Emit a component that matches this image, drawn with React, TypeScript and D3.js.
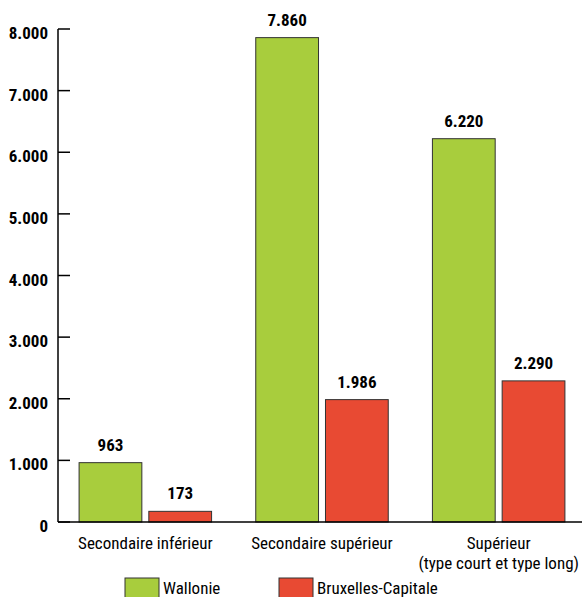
import React from "react";
import * as d3 from "d3";

const categories = ["Secondaire inférieur", "Secondaire supérieur", "Supérieur|(type court et type long)"];
const seriesNames = ["Wallonie", "Bruxelles-Capitale"];
const wallonie = [963, 7860, 6220];
const bruxelles = [173, 1986, 2290];
const yTicks = [0, 1000, 2000, 3000, 4000, 5000, 6000, 7000, 8000];
const colors = ["#a8cd3d", "#e84a33"];

const fmt = (v: number) => (v >= 1000 ? d3.format(",")(v).replace(/,/g, ".") : String(v));
const FONT = "'Liberation Sans Narrow', 'Roboto Condensed', 'Arial Narrow', 'Liberation Sans', sans-serif";

export default function App() {
  const W = 582, H = 597;
  const y = d3.scaleLinear().domain([0, 8000]).range([522, 29]);
  const x0 = d3.scaleBand().domain(categories).range([57, 587]).paddingInner(0.25).paddingOuter(0.125);
  const x1 = d3.scaleBand().domain(seriesNames).range([0, x0.bandwidth()]).paddingInner(0.1);
  const series = [wallonie, bruxelles];
  return (
    <svg width={W} height={H} style={{ position: "absolute", left: 0, top: 0, fontFamily: FONT }}>
      <rect width={W} height={H} fill="#fff" />
      {yTicks.map((t) => (
        <g key={t}>
          <line x1={58} x2={70} y1={y(t)} y2={y(t)} stroke="#000" strokeWidth={1.5} />
          <text x={48} y={y(t) + 10} textAnchor="end" fontSize={17} fontWeight="bold">{fmt(t)}</text>
        </g>
      ))}
      {categories.map((c, ci) =>
        series.map((s, si) => {
          const bx = (x0(c) as number) + (x1(seriesNames[si]) as number);
          const bw = x1.bandwidth();
          return (
            <g key={c + si}>
              <rect x={bx} y={y(s[ci])} width={bw} height={y(0) - y(s[ci])} fill={colors[si]} stroke="#333" strokeWidth={1} />
              <text x={bx + bw / 2} y={y(s[ci]) - 12} textAnchor="middle" fontSize={17} fontWeight="bold">{fmt(s[ci])}</text>
            </g>
          );
        })
      )}
      <line x1={58} x2={58} y1={y(8000)} y2={y(0)} stroke="#000" strokeWidth={1.5} />
      <line x1={58} x2={582} y1={y(0)} y2={y(0)} stroke="#000" strokeWidth={1.5} />
      {categories.map((c) => {
        const cx = (x0(c) as number) + x0.bandwidth() / 2;
        const lines = c.split("|");
        return (
          <text key={c} x={cx} textAnchor="middle" fontSize={17}>
            {lines.map((l, i) => (
              <tspan key={i} x={cx} y={549 + i * 20}>{l}</tspan>
            ))}
          </text>
        );
      })}
      {seriesNames.map((n, i) => {
        const lx = i === 0 ? 125 : 279;
        return (
          <g key={n}>
            <rect x={lx} y={578} width={34} height={22} fill={colors[i]} stroke="#333" strokeWidth={1} />
            <text x={lx + 38} y={594} fontSize={17}>{n}</text>
          </g>
        );
      })}
    </svg>
  );
}
